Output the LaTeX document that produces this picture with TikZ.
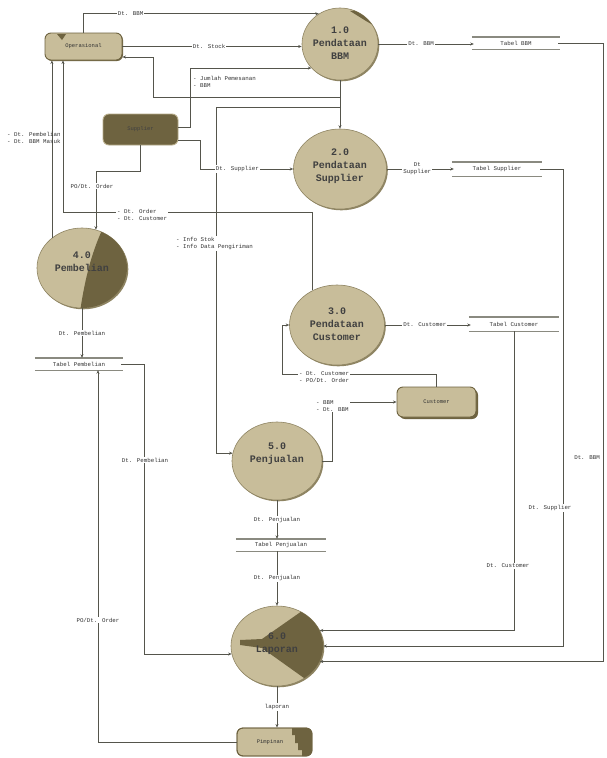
\documentclass[tikz,border=0pt]{standalone}
\usepackage{fontspec}
\setmainfont{Liberation Serif}
\newfontfamily\monof{Liberation Mono}
\usetikzlibrary{shapes.geometric,arrows.meta,calc,shadows}
\definecolor{tanf}{HTML}{C8BD9A}
\definecolor{tanshadow}{HTML}{8E8462}
\definecolor{olivef}{HTML}{6E6340}
\definecolor{lnc}{HTML}{55554C}
\definecolor{storec}{HTML}{8A8A80}
\tikzset{
  proc/.style={ellipse, fill=tanf, draw=tanshadow, line width=0.6pt, inner sep=0pt,
    drop shadow={shadow xshift=1.3pt, shadow yshift=-1.3pt, fill=tanshadow, opacity=1}},
  ptext/.style={font=\monof\bfseries\fontsize{10}{13}\selectfont, align=center, text=black!75},
  ext/.style={rounded corners=6pt, fill=tanf, draw=olivef, line width=0.9pt, inner sep=0pt,
    font=\monof\fontsize{5.5}{6}\selectfont, text=black!80},
  store/.style={font=\monof\fontsize{5.8}{7}\selectfont, inner sep=0pt, text=black!80},
  lbl/.style={font=\monof\fontsize{5.8}{7}\selectfont, align=left, text=black!80, fill=white, inner sep=1pt},
  lblc/.style={lbl, align=center},
  flow/.style={draw=lnc, line width=0.7pt, -{Stealth[length=3.5pt,width=3pt]}},
}
\newcommand{\storelines}[1]{%
  \draw[storec, line width=1.4pt] ($(#1.north west)+(-2,0)$) -- ($(#1.north east)+(2,0)$);
  \draw[storec, line width=1.4pt] ($(#1.south west)+(-2,0)$) -- ($(#1.south east)+(2,0)$);}
\begin{document}
\begin{tikzpicture}[x=1pt,y=-1pt]
\useasboundingbox[fill=white] (0,0) rectangle (606,758);

% ---------- processes ----------
\node[proc, minimum width=76pt, minimum height=72pt] (P1) at (340,44) {};
\node[proc, minimum width=93pt, minimum height=80pt] (P2) at (340,169) {};
\node[proc, minimum width=95pt, minimum height=80pt] (P3) at (337,325) {};
\node[proc, minimum width=90pt, minimum height=80pt] (P4) at (82,268) {};
\node[proc, minimum width=90pt, minimum height=78pt] (P5) at (277,461) {};
\node[proc, minimum width=92pt, minimum height=80pt] (P6) at (277,646) {};

\begin{scope}
  \clip (P1.center) ellipse [x radius=38pt, y radius=36pt];
  \fill[olivef] (350,11) -- (372,9) -- (382,30) -- (366,21) -- cycle;
\end{scope}
\begin{scope}
  \clip (P4.center) ellipse [x radius=45pt, y radius=40pt];
  \fill[olivef] (104,226) .. controls (90,255) and (84,285) .. (80,312) -- (135,312) -- (135,226) -- cycle;
\end{scope}
\begin{scope}
  \clip (P6.center) ellipse [x radius=46pt, y radius=40pt];
  \fill[olivef] (240,640) -- (262,639) -- (312,604) -- (330,604) -- (330,692) -- (318,688) -- (262,648) -- (240,645) -- cycle;
\end{scope}

\node[ptext] at (340,43) {1.0\\Pendataan\\BBM};
\node[ptext] at (340,166) {2.0\\Pendataan\\Supplier};
\node[ptext] at (337,324) {3.0\\Pendataan\\Customer};
\node[ptext] at (82,262) {4.0\\Pembelian};
\node[ptext] at (277,454) {5.0\\Penjualan};
\node[ptext] at (277,644) {6.0\\Laporan};

% ---------- external entities ----------
\node[ext, minimum width=77pt, minimum height=27pt,
  drop shadow={shadow xshift=1pt, shadow yshift=-1pt, fill=olivef, opacity=1}] (op) at (83.5,46.5) {Operasional};
\fill[olivef] (57,34) -- (66,34) -- (62,40) -- cycle;
\node[ext, fill=olivef, draw=tanf!80!olivef, minimum width=75pt, minimum height=31pt, text=black!75] (sup) at (140.5,129.5) {Supplier};
\node[ext, minimum width=79pt, minimum height=30pt,
  drop shadow={shadow xshift=2pt, shadow yshift=-2pt, fill=olivef, opacity=1}] (cus) at (436.5,402) {Customer};
\node[ext, minimum width=75pt, minimum height=28pt] (pim) at (274.5,742) {};
\begin{scope}
  \clip[rounded corners=6pt] (237,728) rectangle (312,756);
  \fill[olivef] (292,728) -- (312,728) -- (312,756) -- (302,756) -- (302,750) -- (298,750) -- (298,743) -- (295,743) -- (295,735) -- (292,735) -- cycle;
\end{scope}
\draw[olivef, line width=0.9pt, rounded corners=6pt] (237,728) rectangle (312,756);
\node[font=\monof\fontsize{5.5}{6}\selectfont, text=black!80] at (270,742) {Pimpinan};

% ---------- data stores ----------
\node[store, minimum width=84pt, minimum height=12pt] (sBBM) at (516,43) {Tabel BBM};
\node[store, minimum width=86pt, minimum height=14pt] (sSup) at (497,169) {Tabel Supplier};
\node[store, minimum width=86pt, minimum height=14pt] (sCus) at (514,324) {Tabel Customer};
\node[store, minimum width=84pt, minimum height=12pt] (sPem) at (79,364) {Tabel Pembelian};
\node[store, minimum width=86pt, minimum height=12pt] (sPen) at (281,545) {Tabel Penjualan};
\storelines{sBBM}\storelines{sSup}\storelines{sCus}\storelines{sPem}\storelines{sPen}

% ---------- helper coordinates ----------
\coordinate (j1) at (340,97);
\coordinate (j2) at (340,107);
\coordinate (k3) at (190,127);
\coordinate (k5) at (153,97);
\coordinate (k6) at (216,107);
\coordinate (k7) at (200,140);
\coordinate (k9) at (63,212);
\coordinate (k23) at (282,374);
\coordinate (k24) at (332,402);
\coordinate (r1) at (603,43);
\coordinate (r2) at (563,169);

% ---------- flows ----------
\draw[flow] (op.north) |- (P1.125) node[lbl, pos=0.6] {Dt. BBM};
\draw[flow] (op.east) -- (op.east -| P1.west) node[lbl, midway, xshift=-3pt] {Dt. Stock};
\draw[flow] (sup.east |- k3) -- (k3) |- (P1.220);
\node[lbl, anchor=north west, fill=none] at (192,75) {- Jumlah Pemesanan\\- BBM};
\draw[flow] (P1.south) -- (P2.north);
\draw[flow] (j1) -- (k5) -- (k5 |- 0,57) -- (op.east |- 0,57);
\draw[flow] (j2) -- (k6) |- (P5.170);
\node[lbl, anchor=north west] at (175,236) {- Info Stok\\- Info Data Pengiriman};
\draw[flow] (sup.east |- k7) -- (k7) |- (P2.west) node[lbl, pos=0.7] {Dt. Supplier};
\draw[flow] (sup.south) -- ++(0,26) -| (P4.70);
\node[lbl] at (92,186) {PO/Dt. Order};
\draw[flow] (P3.125) |- (k9) -- (k9 |- op.south);
\node[lbl, anchor=west] at (116,215) {- Dt. Order\\- Dt. Customer};
\draw[flow] (P4.135) -- (P4.135 |- op.south);
\node[lbl, anchor=west, fill=none] at (6,138) {- Dt. Pembelian\\- Dt. BBM Masuk};
\draw[flow] (P4.south) -- (P4.south |- sPem.north) node[lbl, midway] {Dt. Pembelian};
\draw[flow] (pim.west) -| ($(sPem.south)+(19,0)$);
\node[lbl] at (98,620) {PO/Dt. Order};
\draw[flow] (sPem.east) -| ($(P6.190)+(-87,0)$) -- (P6.190);
\node[lbl] at (145,460) {Dt. Pembelian};
\draw[flow] (P5.south) -- (P5.south |- sPen.north) node[lbl, midway] {Dt. Penjualan};
\draw[flow] (sPen.south -| P5.south) -- (P6.north) node[lbl, midway] {Dt. Penjualan};
\draw[flow] (P6.south) -- (P6.south |- pim.north) node[lbl, midway] {laporan};
\draw[flow] (P1.east) -- (P1.east -| sBBM.west) node[lbl, midway, xshift=-5pt] {Dt. BBM};
\draw[flow] (P2.east) -- (P2.east -| sSup.west) node[lblc, midway, xshift=-3pt] {Dt\\Supplier};
\draw[flow] (P3.east) -- (P3.east -| sCus.west) node[lbl, midway, xshift=-3pt] {Dt. Customer};
\draw[flow] (sBBM.east) -- (r1) |- (P6.-20);
\node[lbl, anchor=east] at (601,458) {Dt. BBM};
\draw[flow] (sSup.east) -- (r2) |- (P6.east);
\node[lbl] at (550,508) {Dt. Supplier};
\draw[flow] (sCus.south) |- (P6.20);
\node[lbl] at (508,566) {Dt. Customer};
\draw[flow] (cus.north) |- (k23) |- (P3.west);
\node[lbl, anchor=west] at (298,377) {- Dt. Customer\\- PO/Dt. Order};
\draw[flow] (P5.east) -| (k24) -- (cus.west);
\node[lbl, anchor=west] at (315,406) {- BBM\\- Dt. BBM};
\end{tikzpicture}
\end{document}
